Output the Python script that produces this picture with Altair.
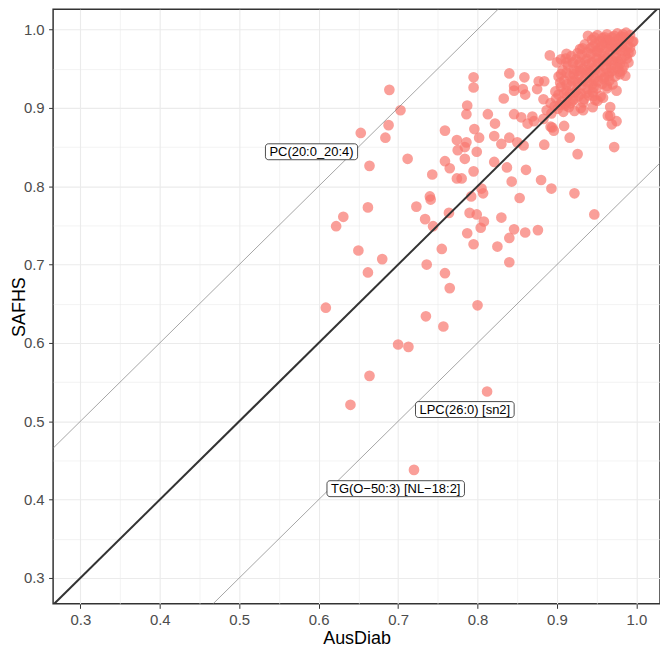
import altair as alt
import pandas as pd

# ---------------- data ----------------
ausdiab = [
    # scattered lower / left points
    0.703, 0.688, 0.684, 0.653, 0.664, 0.712, 0.743, 0.662, 0.723, 0.740,
    0.741, 0.734, 0.744, 0.631, 0.622, 0.650, 0.680, 0.662, 0.736, 0.755,
    0.700, 0.713, 0.664, 0.640, 0.812, 0.720, 0.609, 0.800, 0.689, 0.735, 0.757,
    0.787, 0.786, 0.813, 0.759, 0.796, 0.802, 0.822, 0.774, 0.786, 0.784,
    0.775, 0.799, 0.784, 0.821, 0.830, 0.840, 0.850, 0.846, 0.855, 0.863,
    0.869, 0.884, 0.894, 0.909, 0.916, 0.759, 0.765, 0.774, 0.780, 0.795,
    0.821, 0.837, 0.861, 0.843, 0.880, 0.893, 0.922, 0.853, 0.805, 0.807,
    0.792, 0.790, 0.799, 0.808, 0.804, 0.764, 0.830, 0.846, 0.860, 0.876,
    0.840, 0.787, 0.795, 0.825, 0.759, 0.840, 0.765, 0.926, 0.947,
    0.795, 0.795, 0.840, 0.859, 0.846, 0.857, 0.860, 0.846, 0.833, 0.877,
    0.875, 0.883, 0.891, 0.912, 0.871, 0.883, 0.892, 0.896, 0.858, 0.972,
    0.967, 0.967, 0.975, 0.969, 0.975, 0.979, 0.958, 0.946, 0.933, 0.921,
    0.910, 0.946, 0.963, 0.965, 0.979, 0.990, 0.996, 0.983, 0.951, 0.945,
    0.933, 0.884, 0.964,
    # dense cluster near the top right
    0.992, 0.987, 0.981, 0.976, 0.969, 0.963, 0.957, 0.951, 0.944, 0.939,
    0.995, 0.989, 0.983, 0.977, 0.971, 0.966, 0.960, 0.954, 0.948, 0.942, 0.935, 0.929,
    0.993, 0.986, 0.980, 0.974, 0.967, 0.961, 0.955, 0.949, 0.943, 0.937, 0.931, 0.924, 0.918,
    0.990, 0.984, 0.977, 0.971, 0.965, 0.958, 0.952, 0.946, 0.940, 0.933, 0.927, 0.921, 0.914, 0.907,
    0.986, 0.979, 0.973, 0.966, 0.960, 0.954, 0.947, 0.941, 0.935, 0.928, 0.922, 0.916, 0.909, 0.902,
    0.970, 0.963, 0.957, 0.950, 0.944, 0.938, 0.931, 0.925, 0.918, 0.912, 0.905, 0.898,
    0.955, 0.948, 0.940, 0.934, 0.927, 0.920, 0.913, 0.906, 0.899, 0.892,
    0.930, 0.922, 0.915, 0.908, 0.901, 0.893, 0.887,
    0.975, 0.982, 0.963, 0.950, 0.958, 0.968, 0.925, 0.938, 0.912, 0.900, 0.905,
    0.990, 0.984, 0.978, 0.972, 0.966, 0.960, 0.954, 0.947,
    0.992, 0.986, 0.979, 0.973, 0.968, 0.962, 0.956, 0.951, 0.945, 0.938, 0.932, 0.926,
    0.988, 0.981, 0.975, 0.969, 0.963, 0.957, 0.950, 0.944, 0.936, 0.929, 0.920, 0.911,
    0.982, 0.976, 0.969, 0.962, 0.955, 0.948, 0.942, 0.936, 0.929, 0.921, 0.912, 0.905,
    0.966, 0.959, 0.952, 0.946, 0.939, 0.932, 0.926, 0.919, 0.912, 0.904,
    0.945, 0.937, 0.930, 0.923, 0.916, 0.909, 0.902,
    0.917, 0.911, 0.904, 0.897,
]
safhs = [
    0.897, 0.878, 0.862, 0.868, 0.826, 0.835, 0.815, 0.773, 0.774, 0.787,
    0.783, 0.758, 0.749, 0.761, 0.749, 0.718, 0.707, 0.690, 0.700, 0.720,
    0.598, 0.595, 0.558, 0.521, 0.538, 0.438, 0.645, 0.648, 0.923, 0.634, 0.621,
    0.903, 0.892, 0.892, 0.871, 0.873, 0.862, 0.880, 0.859, 0.856, 0.850,
    0.846, 0.844, 0.835, 0.864, 0.854, 0.862, 0.856, 0.892, 0.888, 0.880,
    0.889, 0.853, 0.875, 0.877, 0.862, 0.832, 0.823, 0.810, 0.810, 0.819,
    0.831, 0.824, 0.821, 0.806, 0.808, 0.797, 0.791, 0.785, 0.797, 0.791,
    0.787, 0.766, 0.764, 0.755, 0.747, 0.766, 0.760, 0.745, 0.741, 0.744,
    0.734, 0.740, 0.726, 0.723, 0.689, 0.703, 0.670, 0.841, 0.764,
    0.939, 0.926, 0.944, 0.939, 0.928, 0.924, 0.917, 0.922, 0.912, 0.934,
    0.924, 0.911, 0.967, 0.969, 0.883, 0.886, 0.876, 0.871, 0.852, 0.850,
    0.901, 0.890, 0.883, 0.879, 0.922, 0.943, 0.913, 0.915, 0.907, 0.911,
    0.905, 0.926, 0.928, 0.941, 0.956, 0.970, 0.985, 0.994, 0.909, 0.901,
    0.897, 0.934, 0.890,
    0.993, 0.996, 0.991, 0.995, 0.990, 0.994, 0.989, 0.993, 0.987, 0.992,
    0.984, 0.979, 0.986, 0.981, 0.984, 0.978, 0.983, 0.977, 0.982, 0.976, 0.981, 0.975,
    0.971, 0.967, 0.973, 0.968, 0.972, 0.966, 0.970, 0.964, 0.969, 0.963, 0.968, 0.962, 0.966,
    0.958, 0.953, 0.959, 0.955, 0.960, 0.954, 0.957, 0.951, 0.956, 0.950, 0.955, 0.949, 0.954, 0.948,
    0.941, 0.946, 0.940, 0.945, 0.939, 0.944, 0.938, 0.943, 0.937, 0.942, 0.936, 0.941, 0.935, 0.940,
    0.930, 0.925, 0.931, 0.925, 0.930, 0.924, 0.929, 0.923, 0.928, 0.922, 0.927, 0.921,
    0.915, 0.910, 0.916, 0.911, 0.915, 0.909, 0.914, 0.908, 0.912, 0.906,
    0.900, 0.896, 0.901, 0.895, 0.899, 0.893, 0.897,
    0.975, 0.978, 0.987, 0.972, 0.962, 0.951, 0.947, 0.948, 0.958, 0.958, 0.962,
    0.988, 0.990, 0.988, 0.992, 0.986, 0.990, 0.985, 0.990,
    0.977, 0.973, 0.980, 0.976, 0.980, 0.975, 0.980, 0.973, 0.978, 0.971, 0.976, 0.970,
    0.963, 0.962, 0.964, 0.961, 0.963, 0.959, 0.962, 0.958, 0.960, 0.958, 0.958, 0.963,
    0.948, 0.951, 0.947, 0.950, 0.946, 0.949, 0.946, 0.945, 0.947, 0.943, 0.945, 0.943,
    0.935, 0.937, 0.934, 0.935, 0.932, 0.934, 0.932, 0.934, 0.930, 0.932,
    0.920, 0.919, 0.918, 0.920, 0.918, 0.919, 0.917,
    0.906, 0.903, 0.904, 0.902,
]

label_text = ["PC(20:0_20:4)", "LPC(26:0) [sn2]", "TG(O\u221250:3) [NL\u221218:2]"]
label_ausdiab = [0.591, 0.784, 0.697]
label_safhs = [0.844, 0.515, 0.414]

ref_offsets = [0.0, 0.2, -0.2]

x_major = [0.3, 0.4, 0.5, 0.6, 0.7, 0.8, 0.9, 1.0]
x_minor = [0.35, 0.45, 0.55, 0.65, 0.75, 0.85, 0.95]
y_major = [0.3, 0.4, 0.5, 0.6, 0.7, 0.8, 0.9, 1.0]
y_minor = [0.35, 0.45, 0.55, 0.65, 0.75, 0.85, 0.95]

# ---------------- layout ----------------
W, H = 609.4, 597
XDOM = [0.2657, 1.0297]
YDOM = [0.267, 1.0258]
FONT = "Liberation Sans"
LABEL_SIZE = 13

# approximate Arial/Liberation Sans glyph widths (em units) to size the label boxes
GLYPH = {"P": .667, "C": .722, "(": .333, ")": .333, ":": .278, "_": .556,
         "L": .556, " ": .278, "[": .278, "]": .278, "s": .5, "n": .556,
         "T": .611, "G": .778, "O": .778, "\u2212": .584, "N": .722}


def text_px(s):
    return sum(GLYPH.get(c, .556) for c in s) * LABEL_SIZE


pts = pd.DataFrame({"AusDiab": ausdiab, "SAFHS": safhs})

line_x = [XDOM[0] - 0.1, XDOM[1] + 0.1]
lines = pd.DataFrame(
    [{"AusDiab": lx, "SAFHS": lx + off, "off": off} for off in ref_offsets for lx in line_x]
)

xpp = W / (XDOM[1] - XDOM[0])
ypp = H / (YDOM[1] - YDOM[0])
boxes = []
for t, lx, ly in zip(label_text, label_ausdiab, label_safhs):
    hw = (text_px(t) + 8) / 2 / xpp
    hh = 8 / ypp
    boxes.append({"label": t, "AusDiab": lx, "SAFHS": ly,
                  "x1": lx - hw, "x2": lx + hw, "y1": ly - hh, "y2": ly + hh})
labels = pd.DataFrame(boxes)

minor_test = "round(datum.value*100) % 10 != 0"


def make_axis(values, title, orient):
    common = dict(
        values=values,
        title=title,
        labelExpr="(round(datum.value*100) % 10 == 0) ? format(datum.value, '.1f') : ''",
        labelFont=FONT,
        labelFontSize=15,
        labelColor="#4D4D4D",
        labelOverlap=False,
        labelFlush=False,
        titleFont=FONT,
        titleFontSize=18,
        titleFontWeight="normal",
        titleColor="#000000",
        domain=False,
        grid=True,
        gridColor="#EBEBEB",
        gridWidth={"condition": {"test": minor_test, "value": 0.6}, "value": 1.1},
        tickColor="#333333",
        tickOpacity={"condition": {"test": minor_test, "value": 0}, "value": 1},
        tickSize=4.5,
        tickWidth=1,
    )
    if orient == "bottom":
        common.update(labelPadding=4, titlePadding=2)
    else:
        common.update(labelPadding=4.5, titleX=-34, titleY=H / 2, titleAngle=270,
                      titleAlign="center", titleBaseline="middle")
    return alt.Axis(**common)


xs = alt.Scale(domain=XDOM, nice=False, zero=False)
ys = alt.Scale(domain=YDOM, nice=False, zero=False)

points = alt.Chart(pts).mark_circle(size=115, color="#F8766D", opacity=0.7).encode(
    x=alt.X("AusDiab:Q", scale=xs, axis=make_axis(x_major + x_minor, "AusDiab", "bottom")),
    y=alt.Y("SAFHS:Q", scale=ys, axis=make_axis(y_major + y_minor, "SAFHS", "left")),
)

diag = alt.Chart(lines).transform_filter("datum.off == 0").mark_line(
    clip=True, color="#333333", strokeWidth=2
).encode(x="AusDiab:Q", y="SAFHS:Q", detail="off:N")

bands = alt.Chart(lines).transform_filter("datum.off != 0").mark_line(
    clip=True, color="#7F7F7F", strokeWidth=0.7
).encode(x="AusDiab:Q", y="SAFHS:Q", detail="off:N")

box = alt.Chart(labels).mark_rect(
    fill="white", stroke="#000000", strokeWidth=0.7, cornerRadius=3
).encode(x="x1:Q", x2="x2:Q", y="y1:Q", y2="y2:Q")

txt = alt.Chart(labels).mark_text(
    font=FONT, fontSize=LABEL_SIZE, color="#000000", align="center", baseline="middle", dy=0.5
).encode(x="AusDiab:Q", y="SAFHS:Q", text="label:N")

chart = alt.layer(points, bands, diag, box, txt).properties(
    width=W,
    height=H,
    autosize=alt.AutoSizeParams(type="none"),
    padding={"left": 45.3, "top": 0, "right": 0, "bottom": 44},
    background="white",
).configure_view(stroke="#333333", strokeWidth=1.5)

chart.save("out.html", embed_options={"renderer": "svg", "actions": False})
